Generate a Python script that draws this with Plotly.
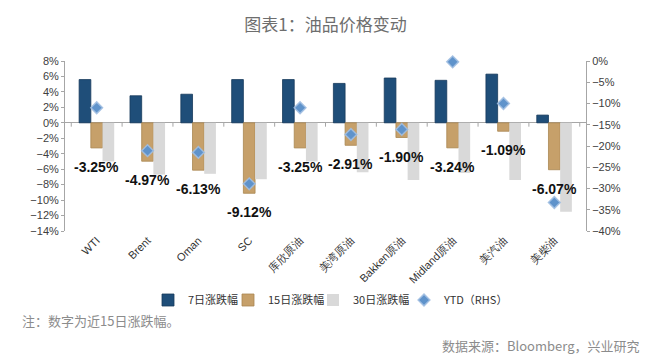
import plotly.graph_objects as go

categories = ["WTI", "Brent", "Oman", "SC", "库欣原油", "美湾原油", "Bakken原油", "Midland原油", "美汽油", "美柴油"]
chg_7d = [5.6, 3.5, 3.7, 5.6, 5.6, 5.1, 5.8, 5.5, 6.3, 1.0]
chg_15d = [-3.25, -4.97, -6.13, -9.12, -3.25, -2.91, -1.90, -3.24, -1.09, -6.07]
chg_30d = [-5.0, -6.7, -6.6, -7.3, -5.0, -6.4, -7.4, -6.5, -7.4, -11.5]
ytd = [-11.0, -21.1, -21.5, -28.9, -11.0, -17.3, -16.1, -0.2, -10.0, -33.3]

left_ticks = list(range(-14, 9, 2))
right_ticks = list(range(-40, 1, 5))

NAVY = "#1F4E79"
TAN = "#C6A06A"
GREY = "#D9D9D9"
DIAMOND = "#5F93CB"
AXIS = "#A6A6A6"

# page body adds an 8px offset; compensate
OFF = 8
W, H = 660 - OFF, 364 - OFF
PL, PT, PW, PH = 65 - OFF, 61 - OFF, 521, 170


def pct(v):
    return f"{v}%".replace("-", "\u2212")


def px_x(x):  # final-page px -> paper x
    return (x - 65) / PW


def px_y(y):  # final-page px -> paper y
    return (231 - y) / PH


fig = go.Figure()
fig.add_trace(go.Bar(x=categories, y=chg_7d, name="7日涨跌幅", legend="legend",
                     marker=dict(color=NAVY, line=dict(color="#173A5C", width=0.8))))
fig.add_trace(go.Bar(x=categories, y=chg_15d, name="15日涨跌幅", legend="legend3",
                     marker=dict(color=TAN, line=dict(color="#A98650", width=0.8))))
fig.add_trace(go.Bar(x=categories, y=chg_30d, name="30日涨跌幅", legend="legend4",
                     marker=dict(color=GREY, line=dict(width=0))))
fig.add_trace(go.Scatter(x=categories, y=ytd, name="YTD（RHS）", yaxis="y2", mode="markers",
                         cliponaxis=False, legend="legend2",
                         marker=dict(symbol="diamond", size=9, color=DIAMOND,
                                     line=dict(color="rgba(160,190,225,0.9)", width=1.5))))

for c, v in zip(categories, chg_15d):
    fig.add_annotation(x=c, y=v, xref="x", yref="y", text=f"<b>{v:.2f}%</b>", showarrow=False,
                       yshift=-19, font=dict(family="Liberation Sans", size=14, color="#111111"),
                       xanchor="center", yanchor="middle")

# small tick marks on the zero line at group boundaries
for i in range(len(categories) + 1):
    fig.add_shape(type="line", xref="x", yref="y", x0=i - 0.5, x1=i - 0.5, y0=0, y1=-0.5,
                  line=dict(color=AXIS, width=1))

fig.add_annotation(text="注：数字为近15日涨跌幅。", xref="paper", yref="paper",
                   x=px_x(20), y=px_y(320), xanchor="left", yanchor="middle",
                   showarrow=False, font=dict(family="Noto Sans CJK SC", size=13, color="#8C8C8C"))
fig.add_annotation(text="数据来源：Bloomberg，兴业研究", xref="paper", yref="paper",
                   x=px_x(642), y=px_y(345), xanchor="right", yanchor="middle",
                   showarrow=False, font=dict(family="Noto Sans CJK SC", size=13, color="#8C8C8C"))

legend_font = dict(family="Noto Sans CJK SC", size=11, color="#333333")


def leg(xpx):
    return dict(orientation="h", x=px_x(xpx), y=px_y(300), xanchor="left", yanchor="middle",
                font=legend_font, itemwidth=30, bgcolor="rgba(0,0,0,0)", tracegroupgap=0)


fig.update_layout(
    width=W, height=H,
    margin=dict(l=PL, r=W - PL - PW, t=PT, b=H - PT - PH, autoexpand=False),
    paper_bgcolor="white", plot_bgcolor="white",
    barmode="group", bargap=0.31, bargroupgap=0,
    title=dict(text="图表1：油品价格变动", x=0.5, xref="paper", xanchor="center",
               y=1 - (25 - OFF) / H, yanchor="middle",
               font=dict(family="Noto Sans CJK SC", size=17, color="#6E6E6E")),
    font=dict(family="Liberation Sans", size=11, color="#404040"),
    showlegend=True,
    legend=leg(148),
    legend3=leg(228),
    legend4=leg(313),
    legend2=leg(404),
    xaxis=dict(type="category", tickangle=-45, showline=False, showgrid=False, ticks="",
               ticklabelstandoff=0, automargin=False,
               tickfont=dict(family="Liberation Sans", size=11, color="#333333")),
    yaxis=dict(range=[-14, 8], tickvals=left_ticks, ticktext=[pct(v) for v in left_ticks], showgrid=False,
               showline=True, linecolor=AXIS, linewidth=1, ticks="outside", ticklen=3, tickcolor=AXIS,
               zeroline=True, zerolinecolor=AXIS, zerolinewidth=1, automargin=False,
               tickfont=dict(size=11, color="#404040")),
    yaxis2=dict(range=[-40, 0], tickvals=right_ticks, ticktext=[pct(v) for v in right_ticks],
                overlaying="y", side="right", automargin=False,
                showgrid=False, showline=True, linecolor=AXIS, linewidth=1, ticks="outside", ticklen=3,
                tickcolor=AXIS, zeroline=False, tickfont=dict(size=11, color="#404040")),
)

fig.write_html("out.html")
